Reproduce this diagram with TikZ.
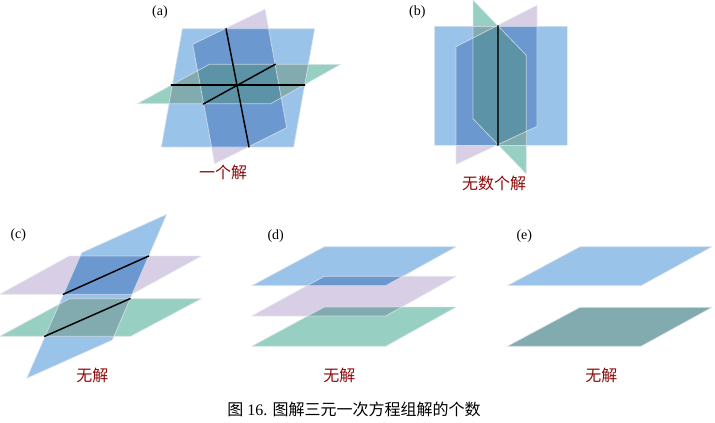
\documentclass[tikz,border=0pt]{standalone}
\usepackage{fontspec}
\setmainfont{Liberation Serif}
\newfontfamily\cjk{Noto Sans CJK SC}
\usepackage{tkz-euclide}
\definecolor{planeblue}{HTML}{9AC3EA}
\definecolor{planepurple}{HTML}{D8CFE6}
\definecolor{planegreen}{HTML}{97CFC3}
\definecolor{mixbp}{HTML}{6B98CF}
\definecolor{mixbg}{HTML}{82ABB0}
\definecolor{mixall}{HTML}{5C93A6}
\definecolor{answer}{HTML}{8B0A0A}
\definecolor{edgegray}{HTML}{E2E6EC}
\tikzset{
	planeedge/.style={draw=edgegray, draw opacity=.7, line width=.6pt},
	meetline/.style={line width=1.1pt, black},
	panel/.style={font=\fontsize{10.5}{12}\selectfont, black},
	answertext/.style={font=\fontsize{12}{14}\selectfont\cjk, answer},
}
\begin{document}
\begin{tikzpicture}[x=.75pt, y=-.75pt]
	\useasboundingbox (0,0) rectangle (715,422);
	% (a)
	\tkzDefPoints{182.3/28.7/Ba1, 314.7/28.7/Ba2, 293.7/147/Ba3, 161.3/147/Ba4}
	\tkzDefPoints{192.7/44.3/Pa1, 265/9.3/Pa2, 286.7/127.7/Pa3, 214.7/163.7/Pa4}
	\tkzDefPoints{209.3/64.3/Ga1, 340.7/64.3/Ga2, 270.7/103.7/Ga3, 137.3/103.7/Ga4}
	\tkzDefPoints{226/28.7/La1, 249/147/La2, 171.3/85/La3, 304.7/85/La4, 203.3/104/La5, 275.3/64.3/La6}
	\tkzFillPolygon[color=planepurple](Pa1,Pa2,Pa3,Pa4)
	\tkzFillPolygon[color=planeblue](Ba1,Ba2,Ba3,Ba4)
	\tkzFillPolygon[color=planegreen](Ga1,Ga2,Ga3,Ga4)
	\begin{scope}
		\tkzClipPolygon(Ba1,Ba2,Ba3,Ba4)
		\tkzFillPolygon[color=mixbp](Pa1,Pa2,Pa3,Pa4)
		\tkzFillPolygon[color=mixbg](Ga1,Ga2,Ga3,Ga4)
		\tkzClipPolygon(Pa1,Pa2,Pa3,Pa4)
		\tkzFillPolygon[color=mixall](Ga1,Ga2,Ga3,Ga4)
	\end{scope}
	\tkzDrawPolygon[planeedge](Pa1,Pa2,Pa3,Pa4)
	\tkzDrawPolygon[planeedge](Ba1,Ba2,Ba3,Ba4)
	\tkzDrawPolygon[planeedge](Ga1,Ga2,Ga3,Ga4)
	\tkzDrawSegments[meetline](La1,La2 La3,La4 La5,La6)
	\node[panel] (taga) at (160,12) {(a)};
	\node[answertext] (anga) at (223,172.7) {一个解};

	% (b)
	\tkzDefPoints{434.3/26/Bb1, 567/26/Bb2, 567/145/Bb3, 434.3/145/Bb4}
	\tkzDefPoints{456/46.7/Pb1, 537/5.3/Pb2, 537/126.3/Pb3, 456/164.3/Pb4}
	\tkzDefPoints{473/0/Gb1, 526.3/55.3/Gb2, 526.3/174/Gb3, 473/118.7/Gb4}
	\tkzDefPoints{498/26/Lb1, 498/145/Lb2}
	\tkzFillPolygon[color=planepurple](Pb1,Pb2,Pb3,Pb4)
	\tkzFillPolygon[color=planeblue](Bb1,Bb2,Bb3,Bb4)
	\tkzFillPolygon[color=planegreen](Gb1,Gb2,Gb3,Gb4)
	\begin{scope}
		\tkzClipPolygon(Bb1,Bb2,Bb3,Bb4)
		\tkzFillPolygon[color=mixbp](Pb1,Pb2,Pb3,Pb4)
		\tkzFillPolygon[color=mixbg](Gb1,Gb2,Gb3,Gb4)
		\tkzClipPolygon(Pb1,Pb2,Pb3,Pb4)
		\tkzFillPolygon[color=mixall](Gb1,Gb2,Gb3,Gb4)
	\end{scope}
	\tkzDrawPolygon[planeedge](Pb1,Pb2,Pb3,Pb4)
	\tkzDrawPolygon[planeedge](Bb1,Bb2,Bb3,Bb4)
	\tkzDrawPolygon[planeedge](Gb1,Gb2,Gb3,Gb4)
	\tkzDrawSegment[meetline, line width=1.5pt, color=black!80!planegreen](Lb1,Lb2)
	\node[panel] (tagb) at (417.3,11.7) {(b)};
	\node[answertext] (angb) at (494,183.3) {无数个解};

	% (c)
	\tkzDefPoints{81.7/252.7/Bc1, 166.7/214.3/Bc2, 112.3/340/Bc3, 26.7/378.3/Bc4}
	\tkzDefPoints{69.3/256/Pc1, 201.3/256/Pc2, 131.7/294.3/Pc3, -.3/294.3/Pc4}
	\tkzDefPoints{69.3/298.7/Gc1, 201.3/298.7/Gc2, 130.7/336.3/Gc3, -.3/336.3/Gc4}
	\tkzDefPoints{63.3/294.3/Lc1, 148.7/256/Lc2, 44.7/336.3/Lc3, 130/298.7/Lc4}
	\tkzFillPolygon[color=planepurple](Pc1,Pc2,Pc3,Pc4)
	\tkzFillPolygon[color=planegreen](Gc1,Gc2,Gc3,Gc4)
	\tkzFillPolygon[color=planeblue](Bc1,Bc2,Bc3,Bc4)
	\begin{scope}
		\tkzClipPolygon(Bc1,Bc2,Bc3,Bc4)
		\tkzFillPolygon[color=mixbp](Pc1,Pc2,Pc3,Pc4)
		\tkzFillPolygon[color=mixbg](Gc1,Gc2,Gc3,Gc4)
	\end{scope}
	\tkzDrawPolygon[planeedge](Pc1,Pc2,Pc3,Pc4)
	\tkzDrawPolygon[planeedge](Gc1,Gc2,Gc3,Gc4)
	\tkzDrawPolygon[planeedge](Bc1,Bc2,Bc3,Bc4)
	\tkzDrawSegments[meetline](Lc1,Lc2 Lc3,Lc4)
	\node[panel] (tagc) at (18.3,235) {(c)};
	\node[answertext] (angc) at (92.3,375.7) {无解};

	% (d)
	\tkzDefPoints{324.3/246.7/Bd1, 456.3/246.7/Bd2, 385.7/285.7/Bd3, 251.7/285.7/Bd4}
	\tkzDefPoints{324.3/276.3/Pd1, 456.3/276.3/Pd2, 385.7/316/Pd3, 251.7/316/Pd4}
	\tkzDefPoints{324.3/307/Gd1, 456.3/307/Gd2, 385.7/346.3/Gd3, 251.7/346.3/Gd4}
	\tkzFillPolygon[color=planeblue](Bd1,Bd2,Bd3,Bd4)
	\tkzFillPolygon[color=planegreen](Gd1,Gd2,Gd3,Gd4)
	\tkzFillPolygon[color=planepurple](Pd1,Pd2,Pd3,Pd4)
	\begin{scope}
		\tkzClipPolygon(Pd1,Pd2,Pd3,Pd4)
		\tkzFillPolygon[color=mixbp](Bd1,Bd2,Bd3,Bd4)
		\tkzFillPolygon[color=mixbg](Gd1,Gd2,Gd3,Gd4)
	\end{scope}
	\tkzDrawPolygon[planeedge](Bd1,Bd2,Bd3,Bd4)
	\tkzDrawPolygon[planeedge](Pd1,Pd2,Pd3,Pd4)
	\tkzDrawPolygon[planeedge](Gd1,Gd2,Gd3,Gd4)
	\node[panel] (tagd) at (275.7,235.7) {(d)};
	\node[answertext] (angd) at (339.3,375.7) {无解};

	% (e)
	\tkzDefPoints{580/246.7/Be1, 712/246.7/Be2, 641/285.7/Be3, 507.3/285.7/Be4}
	\tkzDefPoints{580/307.3/Ge1, 712/307.3/Ge2, 641/346.3/Ge3, 507.3/346.3/Ge4}
	\tkzFillPolygon[color=planeblue](Be1,Be2,Be3,Be4)
	\tkzFillPolygon[color=mixbg](Ge1,Ge2,Ge3,Ge4)
	\tkzDrawPolygon[planeedge](Be1,Be2,Be3,Be4)
	\tkzDrawPolygon[planeedge](Ge1,Ge2,Ge3,Ge4)
	\node[panel] (tage) at (524.3,235.7) {(e)};
	\node[answertext] (ange) at (601.3,375.7) {无解};

	\node[font=\fontsize{12}{14}\selectfont] (caption) at (354,409) {{\cjk 图} 16. {\cjk 图解三元一次方程组解的个数}};
\end{tikzpicture}
\end{document}
